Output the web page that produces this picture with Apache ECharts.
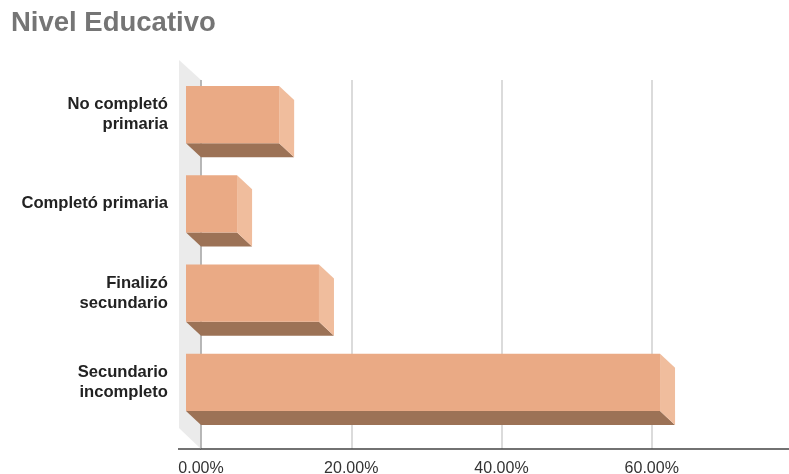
<!DOCTYPE html>
<html>
<head>
<meta charset="utf-8">
<script src="https://cdn.jsdelivr.net/npm/echarts@6/dist/echarts.min.js"></script>
<style>
html,body{margin:0;padding:0;background:#fff;}
#chart{width:789px;height:474px;}
</style>
</head>
<body>
<div id="chart"></div>
<script>
const titleText = 'Nivel Educativo';
const categories = ['No completó\nprimaria', 'Completó primaria', 'Finalizó\nsecundario', 'Secundario\nincompleto'];
const values = [0.124, 0.068, 0.177, 0.631];
const xTicks = [0, 0.2, 0.4, 0.6, 0.8];

const FONT = 'Liberation Sans, Arial, sans-serif';
const COL_FRONT = '#EAAA85';
const COL_SIDE = '#F0BD9D';
const COL_BOTTOM = '#9C7256';
const DX = 15, DY = 14;

const chart = echarts.init(document.getElementById('chart'));

function renderItem(params, api) {
  const cat = api.value(1);
  const v = api.value(0);
  const p0 = api.coord([0, cat]);
  const p1 = api.coord([v, cat]);
  const band = api.size([0, 1])[1];
  const h = band * 0.64;
  const yT = p0[1] - h / 2, yB = p0[1] + h / 2;
  return {
    type: 'group',
    children: [
      { type: 'polygon', shape: { points: [[p0[0] - DX, yB - DY], [p1[0] - DX, yB - DY], [p1[0], yB], [p0[0], yB]] }, style: { fill: COL_BOTTOM } },
      { type: 'polygon', shape: { points: [[p1[0] - DX, yT - DY], [p1[0], yT], [p1[0], yB], [p1[0] - DX, yB - DY]] }, style: { fill: COL_SIDE } },
      { type: 'rect', shape: { x: p0[0] - DX, y: yT - DY, width: p1[0] - p0[0], height: h }, style: { fill: COL_FRONT } }
    ]
  };
}

const L = 201, R = -13;
const xMin = xTicks[0], xMax = xTicks[xTicks.length - 1];
const option = {
  animation: false,
  backgroundColor: '#fff',
  title: {
    text: titleText, left: 11, top: 9, padding: 0,
    textStyle: { fontFamily: FONT, fontSize: 27.5, fontWeight: 'bold', color: '#757575' }
  },
  grid: [
    { left: L, right: R, top: 80, bottom: 25, outerBoundsMode: 'none', containLabel: false },
    { left: L, right: R, top: 84, bottom: 33, outerBoundsMode: 'none', containLabel: false },
    { left: L, right: R, top: 70, bottom: 47, outerBoundsMode: 'none', containLabel: false }
  ],
  xAxis: [
    {
      gridIndex: 0, type: 'value', min: xMin, max: xMax, interval: 0.2,
      axisLine: { show: true, lineStyle: { color: '#444', width: 1.5 } },
      axisTick: { show: false },
      splitLine: { show: true, lineStyle: { color: '#cfcfcf', width: 1.5 } },
      axisLabel: {
        margin: 12, fontFamily: FONT, fontSize: 16, color: '#333', showMaxLabel: false,
        formatter: v => (v * 100).toFixed(2) + '%'
      }
    },
    { gridIndex: 1, type: 'value', min: xMin, max: xMax, show: false },
    { gridIndex: 2, type: 'value', min: xMin, max: xMax, show: false }
  ],
  yAxis: [
    {
      gridIndex: 0, type: 'category', inverse: true, data: categories,
      axisLine: { show: false }, axisTick: { show: false }, axisLabel: { show: false }, splitLine: { show: false }
    },
    {
      gridIndex: 1, type: 'category', inverse: true, data: categories,
      axisLine: { show: false }, axisTick: { show: false }, axisLabel: { show: false }, splitLine: { show: false }
    },
    {
      gridIndex: 2, type: 'category', inverse: true, data: categories,
      axisLine: { show: false }, axisTick: { show: false }, splitLine: { show: false },
      axisLabel: {
        margin: 33, fontFamily: FONT, fontSize: 16.6, fontWeight: 'bold', color: '#222',
        lineHeight: 20, align: 'right'
      }
    }
  ],
  graphic: [
    { type: 'polygon', z: -10, shape: { points: [[179, 60], [201, 80], [201, 449], [179, 428]] }, style: { fill: '#ebebeb' } },
    { type: 'line', z: -5, shape: { x1: 201, y1: 80, x2: 201, y2: 449 }, style: { stroke: '#444', lineWidth: 1.5 } },
    { type: 'line', z: -5, shape: { x1: 178, y1: 449, x2: 201, y2: 449 }, style: { stroke: '#444', lineWidth: 1.5 } }
  ],
  series: [{
    type: 'custom',
    xAxisIndex: 1, yAxisIndex: 1,
    renderItem: renderItem,
    encode: { x: 0, y: 1 },
    data: values.map((v, i) => [v, i]),
    z: 5
  }]
};
chart.setOption(option);
</script>
</body>
</html>
